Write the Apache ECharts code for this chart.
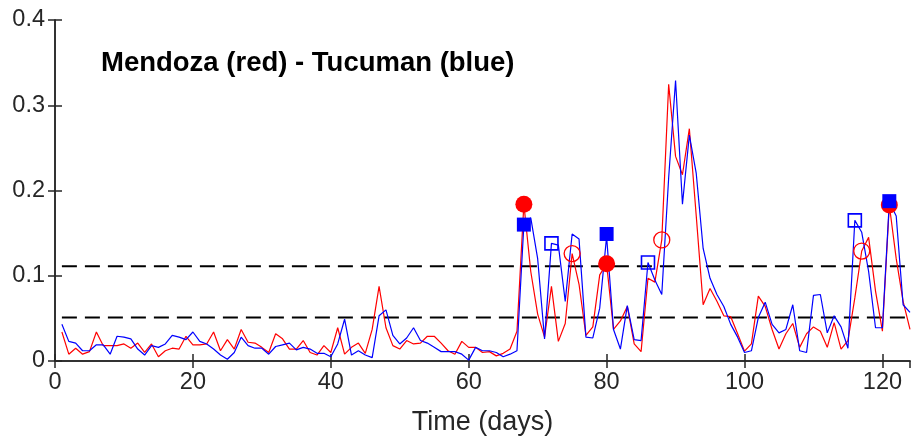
<!DOCTYPE html>
<html>
<head>
<meta charset="utf-8">
<script src="https://cdn.jsdelivr.net/npm/echarts@6/dist/echarts.min.js"></script>
<style>
html,body{margin:0;padding:0;background:#fff;}
#c{width:911px;height:441px;}
</style>
</head>
<body>
<div id="c"></div>
<script>
// Days 1..124
const days = Array.from({length: 124}, (_, i) => i + 1);

const mendoza = [
0.034,0.008,0.015,0.008,0.011,0.034,0.018,0.018,0.018,0.020,
0.015,0.021,0.010,0.020,0.005,0.012,0.015,0.014,0.029,0.019,
0.019,0.020,0.034,0.012,0.025,0.014,0.037,0.022,0.021,0.016,
0.010,0.032,0.026,0.014,0.014,0.024,0.010,0.007,0.018,0.010,
0.039,0.008,0.016,0.021,0.009,0.037,0.0875,0.039,0.018,0.014,
0.024,0.020,0.021,0.029,0.029,0.021,0.012,0.008,0.023,0.016,
0.016,0.010,0.011,0.006,0.009,0.014,0.035,0.184,0.105,0.055,
0.028,0.0875,0.023,0.044,0.126,0.090,0.030,0.040,0.101,0.114,
0.037,0.047,0.064,0.020,0.011,0.097,0.0925,0.142,0.3245,0.240,
0.2185,0.2725,0.170,0.066,0.085,0.070,0.053,0.052,0.032,0.0116,
0.020,0.076,0.064,0.037,0.014,0.032,0.044,0.016,0.032,0.040,
0.035,0.016,0.045,0.014,0.024,0.074,0.129,0.145,0.082,0.035,
0.183,0.120,0.070,0.037
];

const tucuman = [
0.043,0.023,0.021,0.012,0.012,0.019,0.019,0.008,0.029,0.028,
0.026,0.014,0.007,0.018,0.016,0.020,0.030,0.028,0.025,0.034,
0.023,0.020,0.014,0.007,0.002,0.010,0.028,0.018,0.015,0.015,
0.008,0.017,0.019,0.021,0.013,0.016,0.014,0.009,0.009,0.005,
0.020,0.049,0.007,0.012,0.007,0.004,0.053,0.060,0.030,0.020,
0.027,0.039,0.024,0.021,0.016,0.011,0.011,0.011,0.008,0.001,
0.016,0.012,0.012,0.010,0.005,0.008,0.012,0.160,0.168,0.120,
0.026,0.138,0.136,0.070,0.149,0.143,0.028,0.027,0.062,0.146,
0.037,0.014,0.065,0.025,0.024,0.1156,0.095,0.078,0.215,0.329,
0.184,0.265,0.220,0.132,0.097,0.078,0.064,0.043,0.028,0.010,
0.012,0.051,0.069,0.043,0.033,0.037,0.066,0.012,0.010,0.077,
0.078,0.033,0.053,0.040,0.015,0.165,0.151,0.105,0.039,0.039,
0.1865,0.170,0.066,0.057
];

// Markers
const redFilledDays = [68, 80, 121];
const redFilledVals = [0.184, 0.114, 0.183];
const redOpenDays = [75, 88, 117];
const redOpenVals = [0.126, 0.142, 0.129];
const blueFilledDays = [68, 80, 121];
const blueFilledVals = [0.160, 0.149, 0.1875];
const blueOpenDays = [72, 86, 116];
const blueOpenVals = [0.138, 0.1156, 0.165];

// Threshold lines
const thresholds = [0.111, 0.051];
const thresholdSpan = [1, 124];

const xTicks = [0, 20, 40, 60, 80, 100, 120];
const yTicks = [0, 0.1, 0.2, 0.3, 0.4];

const titleText = 'Mendoza (red) - Tucuman (blue)';
const xName = 'Time (days)';

const pair = (xs, ys) => xs.map((x, i) => [x, ys[i]]);

const axisColor = '#262626';
const font = 'Liberation Sans, Arial, Helvetica, sans-serif';

const series = [];
thresholds.forEach(t => {
  series.push({
    type: 'line', data: thresholdSpan.map(x => [x, t]), symbol: 'none',
    lineStyle: {color: '#000', width: 2, type: [15, 8]}, silent: true, z: 1
  });
});
series.push({
  type: 'line', data: pair(days, mendoza), symbol: 'none',
  lineStyle: {color: '#ff0000', width: 1.2}, z: 2
});
series.push({
  type: 'line', data: pair(days, tucuman), symbol: 'none',
  lineStyle: {color: '#0000ff', width: 1.2}, z: 3
});
series.push({
  type: 'scatter', data: pair(redFilledDays, redFilledVals), symbol: 'circle', symbolSize: 17,
  itemStyle: {color: '#ff0000', opacity: 1}, z: 4
});
series.push({
  type: 'scatter', data: pair(redOpenDays, redOpenVals), symbol: 'circle', symbolSize: 16,
  itemStyle: {color: 'rgba(0,0,0,0)', borderColor: '#ff0000', borderWidth: 1.3, opacity: 1}, z: 4
});
series.push({
  type: 'scatter', data: pair(blueFilledDays, blueFilledVals), symbol: 'rect', symbolSize: 14,
  itemStyle: {color: '#0000ff', opacity: 1}, z: 5
});
series.push({
  type: 'scatter', data: pair(blueOpenDays, blueOpenVals), symbol: 'rect', symbolSize: 13,
  itemStyle: {color: 'rgba(0,0,0,0)', borderColor: '#0000ff', borderWidth: 1.6, opacity: 1}, z: 5
});

const chart = echarts.init(document.getElementById('c'), null, {renderer: 'canvas'});
chart.setOption({
  animation: false,
  backgroundColor: '#fff',
  title: {
    text: titleText, left: 96, top: 44,
    textStyle: {fontFamily: font, fontSize: 27.5, fontWeight: 'bold', color: '#000'}
  },
  grid: {left: 55, right: 1, top: 20, bottom: 77, containLabel: false},
  xAxis: [{
    type: 'value', min: 0, max: 124, interval: 20, position: 'bottom',
    name: xName, nameLocation: 'middle', nameGap: 48,
    nameTextStyle: {fontFamily: font, fontSize: 27, color: axisColor},
    axisLine: {show: true, lineStyle: {color: axisColor, width: 1.5}},
    axisTick: {show: true, inside: true, length: 7, lineStyle: {color: axisColor, width: 1.5}},
    axisLabel: {
      fontFamily: font, fontSize: 23.5, color: axisColor, margin: 10, showMaxLabel: false,
      formatter: v => (xTicks.indexOf(v) >= 0 ? String(v) : '')
    },
    splitLine: {show: false}
  }, {
    type: 'value', min: 0, max: 124, interval: 20, position: 'top',
    axisLine: {show: true, lineStyle: {color: axisColor, width: 1.5}},
    axisTick: {show: true, inside: true, length: 7, lineStyle: {color: axisColor, width: 1.5}},
    axisLabel: {show: false}, splitLine: {show: false}
  }],
  yAxis: [{
    type: 'value', min: 0, max: 0.4, interval: 0.1, position: 'left',
    axisLine: {show: true, lineStyle: {color: axisColor, width: 1.5}},
    axisTick: {show: true, inside: true, length: 7, lineStyle: {color: axisColor, width: 1.5}},
    axisLabel: {
      fontFamily: font, fontSize: 23.5, color: axisColor, margin: 10,
      formatter: v => { const r = Math.round(v * 10) / 10; return yTicks.indexOf(r) >= 0 ? String(r) : ''; }
    },
    splitLine: {show: false}
  }, {
    type: 'value', min: 0, max: 0.4, interval: 0.1, position: 'right',
    axisLine: {show: true, lineStyle: {color: axisColor, width: 1.5}},
    axisTick: {show: true, inside: true, length: 7, lineStyle: {color: axisColor, width: 1.5}},
    axisLabel: {show: false}, splitLine: {show: false}
  }],
  series: series
});
</script>
</body>
</html>
